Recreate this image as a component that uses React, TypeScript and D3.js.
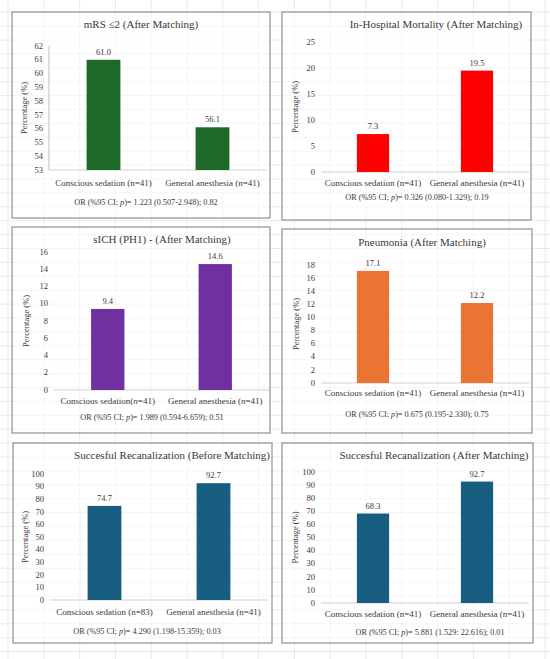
import React from 'react'
import * as d3 from 'd3'

// one entry per panel, in reading order
const titles = [
	'mRS ≤2 (After Matching)',
	'In-Hospital Mortality (After Matching)',
	'sICH (PH1) - (After Matching)',
	'Pneumonia (After Matching)',
	'Succesful Recanalization (Before Matching)',
	'Succesful Recanalization (After Matching)'
]
const sedationLabels = [
	'Conscious sedation (n=41)',
	'Conscious sedation (n=41)',
	'Conscious sedation(n=41)',
	'Conscious sedation (n=41)',
	'Conscious sedation (n=83)',
	'Conscious sedation (n=41)'
]
const anesthesiaLabel = 'General anesthesia (n=41)'
const sedationValues = [61.0, 7.3, 9.4, 17.1, 74.7, 68.3]
const anesthesiaValues = [56.1, 19.5, 14.6, 12.2, 92.7, 92.7]
const yDomains: [number, number][] = [[53, 62], [0, 25], [0, 16], [0, 18], [0, 100], [0, 100]]
const yTickSteps = [1, 5, 2, 2, 10, 10]
const orValues = [
	'1.223 (0.507-2.948); 0.82',
	'0.326 (0.080-1.329); 0.19',
	'1.989 (0.594-6.659); 0.51',
	'0.675 (0.195-2.330); 0.75',
	'4.290 (1.198-15.359); 0.03',
	'5.881 (1.529: 22.616); 0.01'
]
const barColors = ['#1d6a28', '#ff0000', '#7030a0', '#ea7434', '#175e80', '#175e80']

interface ILayout {
	box: [number, number, number, number]
	plot: [number, number, number, number] // left, right, top, bottom
	titleX: number
	titleY: number
	yLabelX: number
	catY: number
	orX: number
	orY: number
	axisLine?: boolean
	italicN?: boolean
}

const layouts: ILayout[] = [
	{ box: [12, 12, 258, 206], plot: [49, 267, 46, 170], titleX: 141, titleY: 28, yLabelX: 27, catY: 186, orX: 146, orY: 205, axisLine: true },
	{ box: [282, 12, 249, 208], plot: [321, 529, 42, 172], titleX: 436, titleY: 28, yLabelX: 298, catY: 186, orX: 417, orY: 200 },
	{ box: [12, 227, 258, 206], plot: [54, 269, 252, 390], titleX: 162, titleY: 243, yLabelX: 29, catY: 404, orX: 152, orY: 420, italicN: true },
	{ box: [282, 229, 250, 204], plot: [321, 529, 265, 383], titleX: 422, titleY: 246, yLabelX: 299, catY: 396, orX: 417, orY: 417 },
	{ box: [13, 443, 259, 200], plot: [50, 268, 474, 600], titleX: 172, titleY: 459, yLabelX: 28, catY: 615, orX: 147, orY: 634 },
	{ box: [282, 443, 251, 200], plot: [321, 529, 472, 603], titleX: 434, titleY: 459, yLabelX: 298, catY: 617, orX: 430, orY: 635 }
]

const W = 550
const H = 659
const font = '"Liberation Serif", serif'
const textColor = '#3a3a3a'

const CatLabel: React.FC<{ text: string; x: number; y: number; italicN?: boolean }> = ({ text, x, y, italicN }) => {
	if (!italicN) {
		return (
			<text x={x} y={y} textAnchor="middle" fontSize={9} fill={textColor}>
				{text}
			</text>
		)
	}
	const i = text.indexOf('(n')
	return (
		<text x={x} y={y} textAnchor="middle" fontSize={9} fill={textColor}>
			{text.slice(0, i + 1)}
			<tspan fontStyle="italic">n</tspan>
			{text.slice(i + 2)}
		</text>
	)
}

const Panel: React.FC<{ idx: number }> = ({ idx }) => {
	const lay = layouts[idx]
	const [left, right, top, bottom] = lay.plot
	const cats = [sedationLabels[idx], anesthesiaLabel]
	const values = [sedationValues[idx], anesthesiaValues[idx]]
	const [y0, y1] = yDomains[idx]

	const x = d3.scaleBand<number>().domain([0, 1]).range([left, right]).paddingInner(0.69).paddingOuter(0.345)
	const y = d3.scaleLinear().domain([y0, y1]).range([bottom, top])
	const ticks = d3.range(y0, y1 + yTickSteps[idx] / 2, yTickSteps[idx])
	const step = x.step()

	return (
		<g fontFamily={font}>
			<rect
				x={lay.box[0]}
				y={lay.box[1]}
				width={lay.box[2]}
				height={lay.box[3]}
				fill="#fff"
				fillOpacity={0.55}
				stroke="#7a7a7a"
				strokeWidth={1}
			/>
			<text x={lay.titleX} y={lay.titleY} textAnchor="middle" fontSize={11} fill={textColor}>
				{titles[idx]}
			</text>
			{ticks.map((t) => (
				<text key={t} x={left - 6} y={y(t)} dy="0.32em" textAnchor="end" fontSize={8.5} fill={textColor}>
					{t}
				</text>
			))}
			{lay.axisLine && <line x1={left} x2={left} y1={top} y2={bottom} stroke="#a8c3cc" strokeWidth={1} />}
			<line x1={left} x2={right} y1={bottom} y2={bottom} stroke="#d0d0d0" strokeWidth={1} />
			{values.map((v, i) => (
				<g key={i}>
					<rect
						x={x(i)}
						y={y(v)}
						width={x.bandwidth()}
						height={bottom - y(v)}
						fill={barColors[idx]}
					/>
					<text
						x={(x(i) || 0) + x.bandwidth() / 2}
						y={y(v) - 5}
						textAnchor="middle"
						fontSize={8.5}
						fill={textColor}
					>
						{v.toFixed(1)}
					</text>
					<CatLabel
						text={cats[i]}
						x={(x(i) || 0) + x.bandwidth() / 2}
						y={lay.catY}
						italicN={lay.italicN}
					/>
				</g>
			))}
			<text
				transform={`translate(${lay.yLabelX}, ${(top + bottom) / 2}) rotate(-90)`}
				textAnchor="middle"
				fontSize={8.5}
				fill={textColor}
			>
				Percentage (%)
			</text>
			<text x={lay.orX} y={lay.orY} textAnchor="middle" fontSize={8.2} fill={textColor}>
				OR (%95 CI; <tspan fontStyle="italic">p</tspan>)= {orValues[idx]}
			</text>
			{step > 0 && null}
		</g>
	)
}

const App: React.FC = () => {
	// spreadsheet grid behind the charts
	const cols = d3.range(8, W, 35.8)
	const rows = d3.range(-1.7, H, 13.9)
	return (
		<svg width={W} height={H} style={{ position: 'absolute', left: 0, top: 0, background: '#fff' }}>
			<g stroke="#e4e4e4" strokeWidth={0.8}>
				{cols.map((c) => (
					<line key={'c' + c} x1={c} x2={c} y1={0} y2={H} />
				))}
				{rows.map((r) => (
					<line key={'r' + r} x1={0} x2={W} y1={r} y2={r} />
				))}
			</g>
			{titles.map((_, i) => (
				<Panel key={i} idx={i} />
			))}
		</svg>
	)
}

export default App
